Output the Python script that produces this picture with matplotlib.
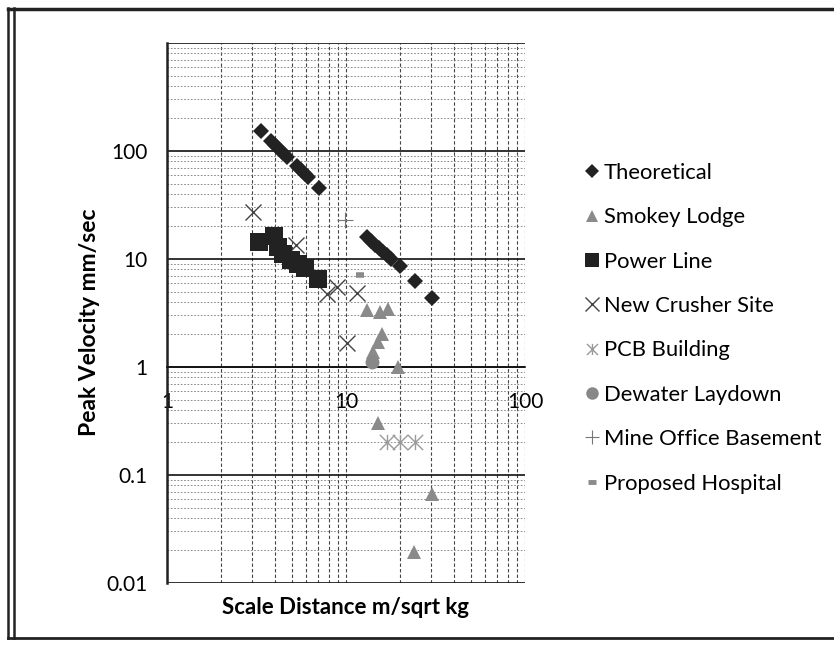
import numpy as np
import matplotlib.pyplot as plt
from matplotlib.lines import Line2D
from matplotlib.path import Path
from matplotlib.ticker import LogLocator, NullFormatter, FixedLocator, FixedFormatter

plt.rcParams['font.family'] = ['Lato', 'DejaVu Sans']

# ---- data (scale distance, peak velocity) ----
theo_sd = [3.35, 3.81, 4.01, 4.22, 4.45, 4.68, 5.32, 5.61, 5.90, 6.13, 7.07,
           13.1, 13.8, 14.5, 15.3, 16.1, 16.9, 17.8, 20.0, 24.3, 30.2]
theo_ppv = [153, 124, 114, 105, 96.6, 88.8, 72.0, 66.2, 61.0, 57.2, 45.4,
            16.0, 14.7, 13.5, 12.6, 11.6, 10.9, 10.0, 8.61, 6.25, 4.35]

smokey_sd = [13.15, 15.5, 17.2, 15.8, 15.1, 14.2, 19.6, 15.1, 30.3, 24.0]
smokey_ppv = [3.35, 3.23, 3.47, 2.03, 1.70, 1.38, 1.0, 0.30, 0.067, 0.0194]

power_sd = [3.27, 3.96, 4.17, 4.45, 4.93, 5.39, 5.90, 6.98]
power_ppv = [14.4, 16.3, 12.9, 11.1, 9.79, 8.99, 8.26, 6.53]

crusher_sd = [3.02, 5.26, 7.83, 8.91, 11.5, 10.1]
crusher_ppv = [27.2, 13.5, 4.74, 5.51, 4.84, 1.67]

pcb_sd = [16.9, 20.0, 24.3]
pcb_ppv = [0.2, 0.2, 0.2]

dewater_sd = [13.9]
dewater_ppv = [1.12]

mine_sd = [9.87]
mine_ppv = [23.0]

hospital_sd = [12.05]
hospital_ppv = [7.18]

# excel style "star" marker: an X with a vertical bar
star = Path([(-1, -1), (1, 1), (-1, 1), (1, -1), (0, -1), (0, 1)],
            [Path.MOVETO, Path.LINETO, Path.MOVETO, Path.LINETO, Path.MOVETO, Path.LINETO])

fig = plt.figure(figsize=(8.34, 6.45), dpi=100)
ax = fig.add_axes([167 / 834, 62 / 645, 358 / 834, 540 / 645])
ax.set_xscale('log')
ax.set_yscale('log')
ax.set_xlim(1, 100)
ax.set_ylim(0.01, 1000)

# ticks / grid
ax.xaxis.set_major_locator(FixedLocator([0.1, 1, 10, 100, 1000]))
ax.xaxis.set_major_formatter(FixedFormatter(['', '1', '10', '100', '']))
ax.xaxis.set_minor_locator(LogLocator(base=10, subs=np.arange(2, 10)))
ax.xaxis.set_minor_formatter(NullFormatter())
ax.yaxis.set_major_locator(FixedLocator([0.01, 0.1, 1, 10, 100, 1000]))
ax.yaxis.set_major_formatter(FixedFormatter(['0.01', '0.1', '1', '10', '100', '']))
ax.yaxis.set_minor_locator(LogLocator(base=10, subs=np.arange(2, 10)))
ax.yaxis.set_minor_formatter(NullFormatter())

ax.grid(True, axis='x', which='both', color='#444444', linestyle=(0, (3, 2)), linewidth=0.8)
ax.grid(True, axis='y', which='major', color='#111111', linestyle='-', linewidth=1.2)
ax.grid(True, axis='y', which='minor', color='#777777', linestyle=(0, (2, 2)), linewidth=0.6)

for side in ['top', 'right']:
    ax.spines[side].set_visible(False)
ax.spines['left'].set_linewidth(1.8)
ax.spines['left'].set_color('#222222')
ax.spines['bottom'].set_position(('data', 1))
ax.spines['bottom'].set_color('#111111')
ax.spines['bottom'].set_linewidth(1.2)
ax.tick_params(axis='x', which='both', length=0, pad=18, labelsize=15)
ax.tick_params(axis='y', which='both', length=0, pad=14, labelsize=15)

# series
ax.plot(theo_sd, theo_ppv, linestyle='none', marker='D', markersize=8,
        color='#222222', markeredgewidth=0, zorder=3)
ax.plot(smokey_sd, smokey_ppv, linestyle='none', marker='^', markersize=10.5,
        color='#8a8a8a', markeredgewidth=0, zorder=3)
ax.plot(crusher_sd, crusher_ppv, linestyle='none', marker='x', markersize=12,
        color='#444444', markeredgewidth=1.0, zorder=3)
ax.plot(power_sd, power_ppv, linestyle='none', marker='s', markersize=12.5,
        color='#222222', markeredgewidth=0, zorder=4)
ax.plot(pcb_sd, pcb_ppv, linestyle='none', marker=star, markersize=11,
        color='#9a9a9a', markeredgewidth=1.0, fillstyle='none', zorder=4)
ax.plot(dewater_sd, dewater_ppv, linestyle='none', marker='o', markersize=10,
        color='#888888', markeredgewidth=0, zorder=4)
ax.plot(mine_sd, mine_ppv, linestyle='none', marker='+', markersize=12,
        color='#777777', markeredgewidth=0.8, zorder=4)
ax.plot(hospital_sd, hospital_ppv, linestyle='none', marker='_', markersize=6,
        color='#8a8a8a', markeredgewidth=4, zorder=4)

# legend
handles = [
    Line2D([], [], linestyle='none', marker='D', markersize=7, color='#222222', markeredgewidth=0),
    Line2D([], [], linestyle='none', marker='^', markersize=9, color='#8a8a8a', markeredgewidth=0),
    Line2D([], [], linestyle='none', marker='s', markersize=10.5, color='#222222', markeredgewidth=0),
    Line2D([], [], linestyle='none', marker='x', markersize=10, color='#444444', markeredgewidth=1.0),
    Line2D([], [], linestyle='none', marker=star, markersize=8, color='#9a9a9a', markeredgewidth=1.0),
    Line2D([], [], linestyle='none', marker='o', markersize=9, color='#888888', markeredgewidth=0),
    Line2D([], [], linestyle='none', marker='+', markersize=10, color='#777777', markeredgewidth=0.8),
    Line2D([], [], linestyle='none', marker='_', markersize=5.5, color='#8a8a8a', markeredgewidth=3.5),
]
labels = ['Theoretical', 'Smokey Lodge', 'Power Line', 'New Crusher Site',
          'PCB Building', 'Dewater Laydown', 'Mine Office Basement', 'Proposed Hospital']
fig.legend(handles, labels, loc='upper left', bbox_to_anchor=(585 / 834, 1 - 163 / 645),
           frameon=False, fontsize=15.8, handlelength=0.6, handletextpad=0.25,
           labelspacing=1.11, borderpad=0, borderaxespad=0)

# axis titles
fig.text(90 / 834, 1 - 322 / 645, 'Peak Velocity mm/sec', rotation=90, fontsize=16.5,
         fontweight='bold', ha='center', va='center')
fig.text(345 / 834, 1 - 607 / 645, 'Scale Distance m/sqrt kg', fontsize=16,
         fontweight='bold', ha='center', va='center')

# chart frame (double line left, single top / bottom)
for x in (8, 14):
    fig.add_artist(Line2D([x / 834, x / 834], [1 - 638 / 645, 1 - 8 / 645],
                          transform=fig.transFigure, color='#222222', linewidth=1.8))
fig.add_artist(Line2D([8 / 834, 1], [1 - 9 / 645, 1 - 9 / 645],
                      transform=fig.transFigure, color='#222222', linewidth=2.5))
fig.add_artist(Line2D([8 / 834, 1], [1 - 638 / 645, 1 - 638 / 645],
                      transform=fig.transFigure, color='#222222', linewidth=2.0))

fig.savefig('out.png', dpi=100)
